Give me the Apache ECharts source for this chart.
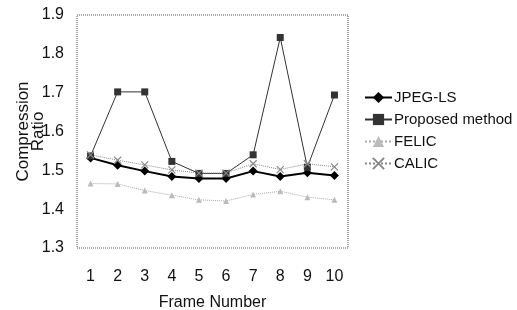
<!DOCTYPE html>
<html>
<head>
<meta charset="utf-8">
<script src="https://cdn.jsdelivr.net/npm/echarts@6/dist/echarts.min.js"></script>
<style>
    html, body { margin: 0; padding: 0; background: #fff; }
    #chart { width: 517px; height: 310px; }
</style>
</head>
<body>
<div id="chart"></div>
<script>
    var frames = ['1', '2', '3', '4', '5', '6', '7', '8', '9', '10'];
    var jpegls = [1.532, 1.513, 1.498, 1.484, 1.479, 1.479, 1.498, 1.484, 1.494, 1.487];
    var proposed = [1.537, 1.702, 1.702, 1.523, 1.492, 1.492, 1.540, 1.842, 1.508, 1.694];
    var felic = [1.466, 1.465, 1.448, 1.436, 1.424, 1.421, 1.438, 1.446, 1.431, 1.424];
    var calic = [1.540, 1.526, 1.514, 1.501, 1.493, 1.493, 1.517, 1.502, 1.517, 1.509];

    var font = 'Liberation Sans';
    var xMark = 'path://M0,0L10,10M10,0L0,10';

    var chart = echarts.init(document.getElementById('chart'));

    var option = {
        animation: false,
        backgroundColor: '#fff',
        grid: {
            left: 77, right: 169, top: 15, bottom: 62,
            outerBoundsMode: 'none',
            show: true,
            borderColor: '#555',
            borderWidth: 1,
            borderType: 'dotted'
        },
        legend: {
            orient: 'vertical',
            left: 359,
            top: 85,
            itemWidth: 27,
            itemHeight: 14,
            itemGap: 7,
            textStyle: { fontFamily: font, fontSize: 15, color: '#111', padding: [0, 0, 0, -3] },
            data: ['JPEG-LS', 'Proposed method', 'FELIC', 'CALIC']
        },
        xAxis: {
            type: 'category',
            data: frames,
            boundaryGap: true,
            name: 'Frame Number',
            nameLocation: 'middle',
            nameGap: 47,
            nameMoveOverlap: false,
            nameTextStyle: { fontFamily: font, fontSize: 16, color: '#111' },
            axisLine: { show: false },
            axisTick: { show: false },
            axisLabel: { margin: 21, fontFamily: font, fontSize: 16, color: '#111' }
        },
        yAxis: {
            type: 'value',
            min: 1.3,
            max: 1.9,
            interval: 0.1,
            name: 'Compression\nRatio',
            nameLocation: 'middle',
            nameRotate: 90,
            nameGap: 31,
            nameMoveOverlap: false,
            nameTextStyle: { fontFamily: font, fontSize: 17, color: '#111', lineHeight: 15 },
            axisLine: { show: false },
            axisTick: { show: false },
            splitLine: { show: false },
            axisLabel: {
                margin: 13,
                fontFamily: font,
                fontSize: 16,
                color: '#111',
                formatter: function (v) { return v.toFixed(1); }
            }
        },
        series: [
            {
                name: 'JPEG-LS',
                type: 'line',
                data: jpegls,
                symbol: 'diamond',
                symbolSize: 9,
                itemStyle: { color: '#000' },
                lineStyle: { color: '#000', width: 2 }
            },
            {
                name: 'Proposed method',
                type: 'line',
                data: proposed,
                symbol: 'rect',
                symbolSize: 7,
                itemStyle: { color: '#333' },
                lineStyle: { color: '#333', width: 1 }
            },
            {
                name: 'FELIC',
                type: 'line',
                data: felic,
                symbol: 'triangle',
                symbolSize: 6,
                itemStyle: { color: '#bbb' },
                lineStyle: { color: '#aaa', width: 1, type: 'dotted' }
            },
            {
                name: 'CALIC',
                type: 'line',
                data: calic,
                symbol: xMark,
                symbolSize: 7,
                itemStyle: { color: '#888', borderColor: '#888', borderWidth: 1.2 },
                lineStyle: { color: '#888', width: 1, type: 'dotted' }
            }
        ]
    };

    chart.setOption(option);
</script>
</body>
</html>
